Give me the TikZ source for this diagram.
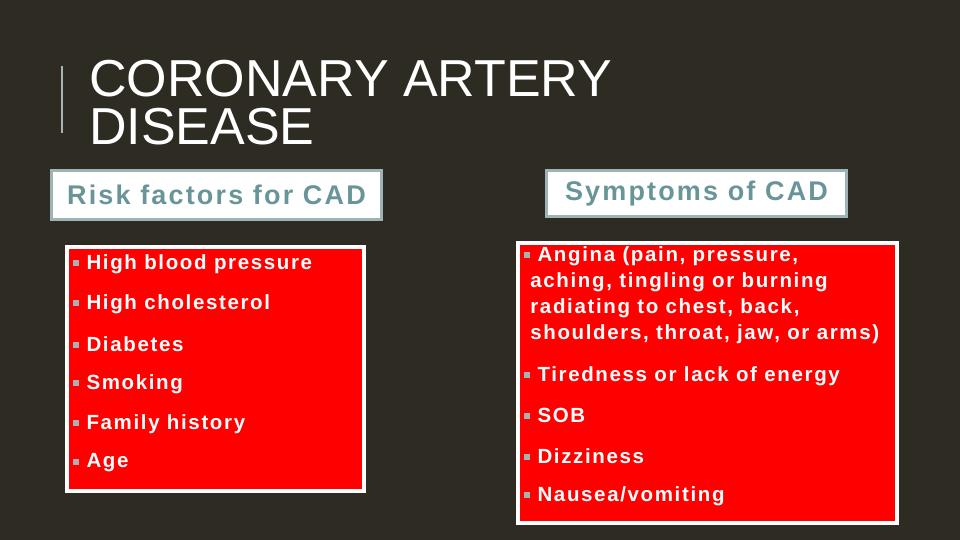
\documentclass[tikz,border=0pt]{standalone}
\usepackage{fontspec}
\setmainfont{Liberation Sans}
\newfontfamily\spaced[LetterSpace=8]{Liberation Sans}
\usetikzlibrary{positioning}
\definecolor{bgdark}{HTML}{2E2B22}
\definecolor{headteal}{HTML}{6A9598}
\definecolor{headframe}{HTML}{9DB3B5}
\definecolor{bulletgrey}{HTML}{A8B4B4}
\newcommand{\bul}{\textcolor{bulletgrey}{\rule[0.15em]{0.3em}{0.3em}}\hspace{0.35em}}
\begin{document}
\begin{tikzpicture}[x=1pt,y=-1pt,
    head box/.style={rectangle,fill=white,draw=headframe,line width=3pt,
    text=headteal,font=\spaced\fontsize{27}{30}\selectfont\bfseries,inner sep=3pt,anchor=west},
    list box/.style={rectangle,fill=red,draw=white,line width=3.5pt,anchor=north west},
    item/.style={anchor=west,text=white,font=\spaced\fontsize{20.5}{26}\selectfont\bfseries,inner sep=0pt}]

    \fill[bgdark] (0,0) rectangle (960,540);
    \useasboundingbox (0,0) rectangle (960,540);

    \draw[bulletgrey,line width=2pt] (62,66) -- (62,133);
    \node[anchor=north west,text=white,align=left,inner sep=0pt,
      font=\fontsize{52}{48}\selectfont] (Title) at (89,60) {CORONARY ARTERY\\DISEASE};

    \node[head box,minimum width=330pt,minimum height=48pt] (RiskHead) at (50,195) {Risk factors for CAD};
    \node[head box,minimum width=300pt,minimum height=46pt] (SymHead) at (545,193.5) {Symptoms of CAD};

    \node[list box,minimum width=297pt,minimum height=244pt] (RiskBox) at (65,245) {};
    \node[list box,minimum width=379pt,minimum height=280pt] (SymBox) at (516,241) {};

    % risk factors
    \node[item] (HighBP) at (73,264) {\bul High blood pressure};
    \node[item] (Chol) at (73,304) {\bul High cholesterol};
    \node[item] (Diab) at (73,344) {\bul Diabetes};
    \node[item] (Smoke) at (73,384) {\bul Smoking};
    \node[item] (Family) at (73,424) {\bul Family history};
    \node[item] (Age) at (73,463) {\bul Age};

    % symptoms
    \node[item,anchor=north west,align=left] (Angina) at (524,246)
      {\bul Angina (pain, pressure,\\\hspace{0.3em}aching, tingling or burning\\\hspace{0.3em}radiating to chest, back,\\\hspace{0.3em}shoulders, throat, jaw, or arms)};
    \node[item] (Tired) at (524,376) {\bul Tiredness or lack of energy};
    \node[item] (Sob) at (524,415) {\bul SOB};
    \node[item] (Dizzy) at (524,456) {\bul Dizziness};
    \node[item] (Nausea) at (524,496) {\bul Nausea/vomiting};
\end{tikzpicture}
\end{document}
